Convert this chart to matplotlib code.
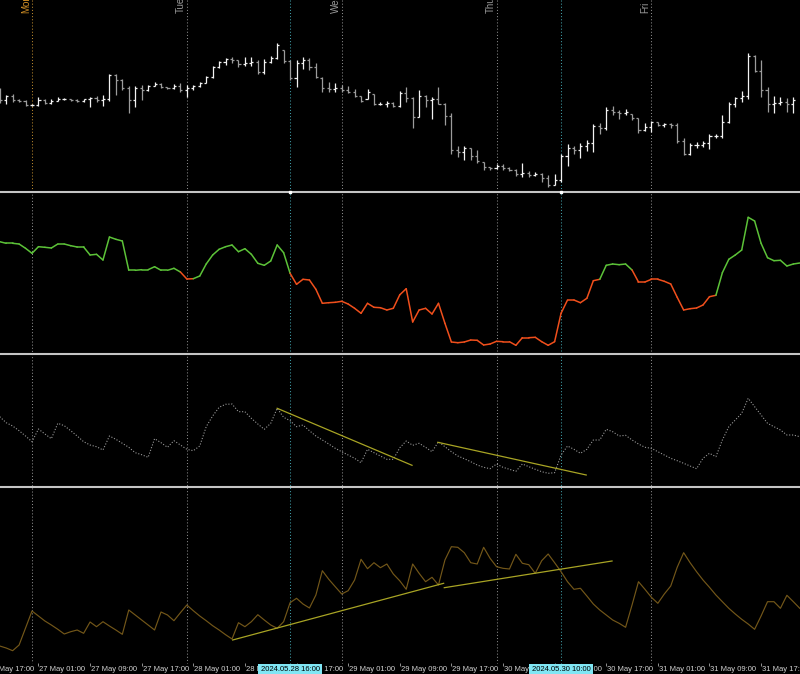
import numpy as np
import matplotlib.pyplot as plt
from matplotlib.collections import LineCollection

plt.rcParams['font.family'] = ['Liberation Sans', 'DejaVu Sans']

# hourly bars, bar 0 = Mon 27 May 00:00, first visible bar is -5
bar_first = -5

# price panel (OHLC, chart units)
price_open = [101, 91, 95, 91, 90, 86, 86, 91, 88, 90,
              92, 92, 91, 90, 92, 93, 91, 92, 116, 111,
              103, 91, 103, 101, 105, 107, 104, 103, 105, 101,
              103, 105, 108, 114, 124, 129, 132, 131, 127, 128,
              129, 119, 129, 133, 141, 130, 113, 128, 131, 124,
              113, 103, 102, 103, 101, 99, 95, 92, 97, 87,
              87, 88, 85, 98, 93, 74, 95, 91, 92, 87,
              75, 41, 39, 43, 35, 29, 24, 23, 25, 23,
              21, 17, 18, 16, 17, 13, 6, 11, 35, 43,
              41, 45, 48, 65, 63, 81, 79, 78, 77, 73,
              61, 64, 69, 66, 67, 66, 50, 37, 46, 46,
              48, 55, 55, 69, 87, 93, 95, 135, 120, 101,
              87, 88, 89, 87]
price_high = [103, 96, 97, 92, 91, 87, 94, 92, 92, 94,
              93, 92, 92, 92, 94, 95, 96, 117, 117, 112,
              105, 105, 106, 106, 109, 108, 104, 107, 108, 106,
              106, 109, 115, 125, 130, 133, 134, 131, 134, 134,
              131, 132, 135, 148, 141, 131, 131, 134, 133, 128,
              114, 109, 108, 106, 105, 102, 95, 102, 97, 89,
              90, 89, 100, 104, 94, 101, 96, 94, 104, 88,
              78, 45, 45, 43, 41, 29, 24, 27, 27, 24,
              22, 28, 20, 19, 18, 16, 17, 37, 47, 45,
              48, 51, 67, 68, 84, 85, 81, 82, 77, 73,
              68, 70, 69, 68, 68, 68, 53, 48, 49, 50,
              57, 57, 76, 89, 94, 100, 138, 136, 131, 104,
              95, 94, 93, 94]
price_low = [88, 87, 89, 89, 85, 85, 85, 87, 87, 90,
             91, 90, 89, 89, 84, 89, 85, 90, 96, 101,
             78, 84, 91, 100, 105, 103, 102, 102, 99, 94,
             101, 104, 108, 113, 123, 126, 128, 124, 125, 125,
             117, 117, 128, 132, 128, 111, 104, 122, 121, 113,
             99, 99, 99, 99, 98, 94, 89, 92, 86, 86,
             84, 84, 84, 89, 63, 74, 84, 72, 87, 66,
             37, 34, 31, 31, 28, 21, 21, 22, 21, 20,
             15, 14, 14, 15, 9, 4, 6, 9, 25, 37,
             33, 40, 39, 57, 61, 76, 72, 76, 71, 58,
             60, 59, 65, 64, 63, 48, 36, 36, 43, 44,
             42, 53, 53, 68, 84, 89, 92, 119, 94, 79,
             78, 86, 79, 78]
price_close = [91, 95, 91, 90, 86, 86, 91, 88, 90, 92,
               92, 91, 90, 92, 93, 91, 92, 116, 111, 103,
               91, 103, 101, 105, 107, 104, 103, 105, 101, 103,
               105, 108, 114, 124, 129, 132, 131, 127, 128, 129,
               119, 129, 133, 146, 130, 113, 128, 131, 124, 114,
               103, 102, 103, 101, 99, 95, 90, 99, 87, 87,
               88, 85, 98, 93, 74, 95, 91, 92, 87, 75,
               41, 39, 43, 35, 30, 24, 23, 25, 23, 21,
               17, 18, 16, 17, 13, 6, 11, 35, 43, 41,
               45, 48, 65, 63, 81, 79, 78, 79, 73, 61,
               64, 69, 66, 67, 66, 50, 37, 46, 46, 48,
               55, 55, 69, 87, 93, 95, 135, 120, 101, 87,
               88, 89, 87, 91]

# indicator 1 (two-colour line)
osc_main = [111.3, 109.7, 109.7, 109, 104.7, 99.7, 106.3, 105.7, 105, 109,
            109, 107.3, 106, 106, 98, 98.7, 93, 116, 113.7, 112,
            82.7, 82.7, 83.3, 83.3, 86.3, 82.7, 82.7, 84.7, 81, 74,
            74.3, 77, 89, 98, 103.7, 106.3, 108, 101.3, 104.3, 98.7,
            89.7, 87.7, 92, 108, 100.3, 79.7, 68.7, 73.7, 73, 63.7,
            49.7, 50.3, 50.7, 51.7, 49, 44.7, 39.7, 49.7, 45.7, 45.3,
            43, 44.7, 58.2, 64.3, 31, 43, 44.7, 39, 49.7, 29.7,
            11, 10.3, 11, 13, 12.7, 8, 9, 11.7, 11.3, 11.3,
            7.7, 15.3, 15.3, 15.7, 11.3, 7.7, 11.3, 39.7, 53, 53,
            50.3, 54.7, 72.3, 73.7, 87.7, 89, 88.3, 89, 83, 71,
            71, 73.7, 73.7, 71.7, 69, 55.7, 43, 44.3, 45, 48,
            56.3, 57.7, 80.3, 93.7, 98, 103, 135.7, 132, 109.7, 95.3,
            92.3, 92.7, 87, 89, 90]
bear_ranges = [(23, 25), (40, 88), (93, 106)]

# indicator 2 (dotted line)
osc_dots = [69.3, 63.3, 60, 55.3, 50, 44.3, 57, 52, 47.3, 62.7,
            60.3, 55.3, 50, 44.3, 41, 39.3, 36, 50, 46.7, 42.7,
            38.7, 33.3, 31.3, 28.7, 47.3, 43.3, 38.7, 45.3, 41, 36.7,
            35.3, 40, 59.3, 70, 78.7, 81.7, 82, 74.3, 74.3, 67.7,
            62, 56.7, 62.7, 77.7, 68.7, 65.3, 59.3, 61, 55.3, 50,
            46, 42, 37.7, 34.3, 31, 27.7, 23.3, 36.7, 33.3, 30,
            26.7, 26.7, 38.2, 45, 40.7, 42.7, 38.7, 34.3, 44.3, 39.3,
            34.3, 30, 27.3, 24.3, 21, 18.7, 17.3, 22, 18.7, 16.7,
            14.7, 22, 19.3, 16.7, 14.3, 12.7, 13.3, 31, 40, 36.7,
            32.7, 36.7, 46, 46, 56.7, 54.3, 50, 50.7, 46, 42,
            38.7, 37.7, 34.3, 31, 27.7, 25.3, 22.7, 20, 17.3, 27.7,
            32.7, 29.3, 46, 59.3, 66, 72.7, 87.7, 79.3, 71, 62.7,
            59.3, 56, 51, 51, 49.3]
trend_dots = [((38, 77.7), (58.9, 20.7)), ((62.9, 43.7), (85.9, 11))]

# indicator 3 (thin line)
osc_line = [17, 15, 12.3, 18, 35, 52, 47, 42, 38, 33.7,
            29, 31.3, 33, 29.7, 41, 36.3, 41.3, 37, 33, 28.7,
            53, 48, 43, 38, 33, 51, 48, 42.3, 50.3, 58,
            52.3, 47, 42.3, 37.3, 33, 28.3, 24, 40.3, 36.3, 41.3,
            48.3, 43, 38, 34.7, 41.3, 60.3, 64.7, 59, 55, 68,
            92.3, 83.7, 76.3, 69, 72.3, 83, 103.7, 94.3, 100.3, 95.3,
            99, 89, 82.2, 73.7, 99, 89.7, 81.3, 85.7, 78, 103,
            116.3, 115.7, 110.3, 100.3, 99, 115.7, 104.7, 96.3, 94.7, 94,
            108.7, 99.7, 98.3, 89.7, 102.3, 109, 100.3, 91.3, 81.3, 73.7,
            74.7, 67, 59, 53, 48, 43, 39.7, 35.7, 58, 81.3,
            73.7, 65.7, 59.7, 69, 77, 95.7, 110.3, 100.3, 91.3, 83,
            75.7, 68, 61.3, 54.7, 49, 43.7, 39, 33.7, 47, 61.3,
            61.3, 54.7, 67.7, 61.3, 54.7]
trend_line = [((31.1, 23), (63.8, 79.7)), ((63.9, 75.3), (89.9, 102))]

# time axis
day_bars = [0, 24, 48, 72, 96]
day_names = ['Mon', 'Tue', 'Wed', 'Thu', 'Fri']
tick_bars = [-7, 1, 9, 17, 25, 33, 41, 49, 57, 65, 73, 81, 89, 97, 105, 113]
tick_labels = ['24 May 17:00', '27 May 01:00', '27 May 09:00', '27 May 17:00',
               '28 May 01:00', '28 May 09:00', '28 May 17:00', '29 May 01:00',
               '29 May 09:00', '29 May 17:00', '30 May 01:00', '30 May 09:00',
               '30 May 17:00', '31 May 01:00', '31 May 09:00', '31 May 17:00']
marked_bars = [40, 82]
marked_labels = ['2024.05.28 16:00', '2024.05.30 10:00']

bars = np.arange(bar_first, bar_first + len(price_close))
ind_bars = np.arange(bar_first, bar_first + len(osc_main))

# layout in pixels
W, H = 800, 674
x_origin = 32       # pixel of bar 0
bar_step = 6.452    # pixels per bar
x_lim = (-x_origin / bar_step, (W - x_origin) / bar_step)
axis_top = 663
font = 5.5

fig = plt.figure(figsize=(W / 100, H / 100), dpi=100, facecolor='black')

# overlay in pixel rows for separators and labels
ov = fig.add_axes([0, 0, 1, 1])
ov.set_xlim(x_lim)
ov.set_ylim(H, 0)
ov.axis('off')


def panel(top, bottom):
    ax = fig.add_axes([0, 1 - bottom / H, 1, (bottom - top) / H])
    ax.set_xlim(x_lim)
    ax.set_ylim(0, bottom - top)
    ax.axis('off')
    return ax


ax1 = panel(0, 191)
ax2 = panel(193, 353)
ax3 = panel(355, 486)
ax4 = panel(488, axis_top)

# period separators and vertical markers
dots = (0, (1, 2))
for k in day_bars:
    y0 = 191 if k == 0 else 0
    ov.plot([k, k], [y0, axis_top], color='#8a8a8a', lw=0.75, ls=dots)
ov.plot([0, 0], [0, 191], color='#b8862c', lw=0.75, ls=dots)
for k in marked_bars:
    ov.plot([k, k], [0, axis_top], color='#3f9ca6', lw=0.75, ls=dots)

# horizontal window borders
ov.hlines([191.5, 353.5, 486.5], x_lim[0], x_lim[1], colors='#c4c4c4', lw=1.5, zorder=3)
ov.plot(marked_bars, [191.5, 191.5], 's', color='white', ms=1.8, zorder=4)

# day names at the top
for k, name in zip(day_bars, day_names):
    ov.text(k - 0.12, 12.7, name, rotation=90, ha='right', va='bottom', fontsize=7,
            color='#d08e24' if k == 0 else '#9a9a9a')

# time labels
ov.vlines(tick_bars, axis_top, axis_top + 3, colors='#909090', lw=0.7)
for k, s in zip(tick_bars, tick_labels):
    ov.text(k + 0.15, 669.8, s, ha='left', va='center', fontsize=font, color='#d2d2d2')
for k, s in zip(marked_bars, marked_labels):
    ov.text(k, 669.8, s, ha='center', va='center', fontsize=font, color='black', zorder=6,
            bbox=dict(boxstyle='square,pad=0.3', fc='#80e6f4', ec='none'))

# price bars
up = np.array(price_close) >= np.array(price_open)
bar_colors = np.where(up, '#f2f2f2', '#9c9c9c')
ax1.vlines(bars, price_low, price_high, colors=bar_colors, lw=0.9)
ax1.hlines(price_open, bars - 0.32, bars, colors=bar_colors, lw=0.9)
ax1.hlines(price_close, bars, bars + 0.32, colors=bar_colors, lw=0.9)

# indicator 1, green / red by trend
pts = np.column_stack([ind_bars, osc_main])
segs = np.stack([pts[:-1], pts[1:]], axis=1)
seg_colors = []
for k in ind_bars[:-1]:
    bear = any(a <= k < b for a, b in bear_ranges)
    seg_colors.append('#f04f1c' if bear else '#5cc238')
ax2.add_collection(LineCollection(segs, colors=seg_colors, linewidths=1.1, capstyle='round'))

# indicator 2
ax3.plot(ind_bars, osc_dots, color='#9a9a9a', lw=0.8, ls=(0, (1, 1.6)))
for (xa, ya), (xb, yb) in trend_dots:
    ax3.plot([xa, xb], [ya, yb], color='#a8a424', lw=0.9)

# indicator 3
ax4.plot(ind_bars, osc_line, color='#735719', lw=0.85)
for (xa, ya), (xb, yb) in trend_line:
    ax4.plot([xa, xb], [ya, yb], color='#a8a424', lw=0.9)

fig.savefig('out.png', dpi=100, facecolor='black')
